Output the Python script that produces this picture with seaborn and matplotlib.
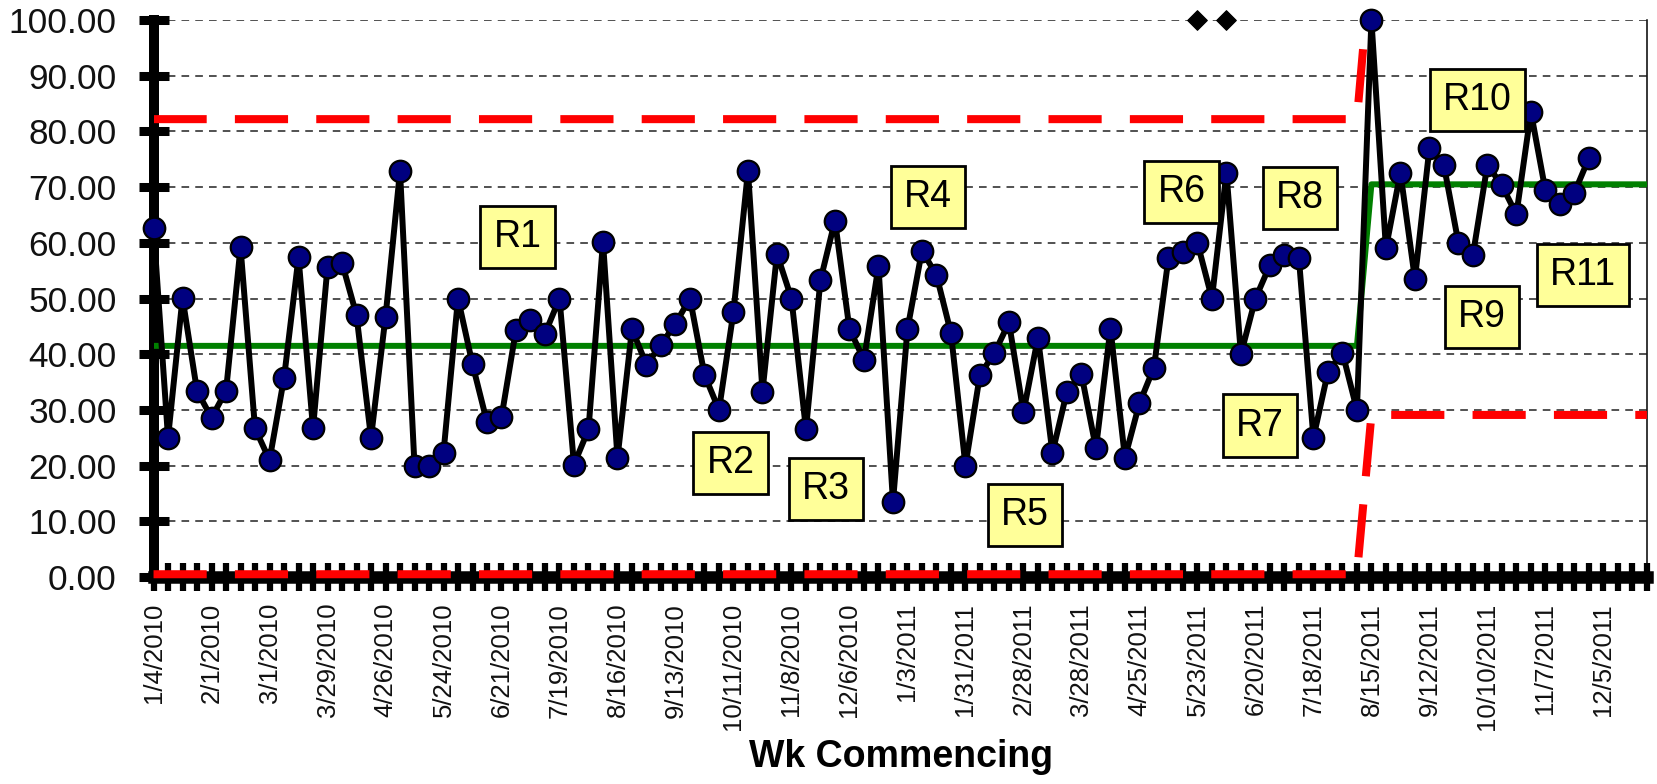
import numpy as np
import pandas as pd
import matplotlib
matplotlib.use("Agg")
import matplotlib.pyplot as plt
import seaborn as sns
from matplotlib.ticker import FixedLocator, FormatStrFormatter

# ---------------- data ----------------
values = [62.7, 25.0, 50.1, 33.4, 28.6, 33.4, 59.2, 26.7, 21.0, 35.7,
          57.4, 26.7, 55.7, 56.4, 47.0, 25.0, 46.7, 72.9, 20.0, 20.0,
          22.3, 50.0, 38.2, 27.8, 28.7, 44.4, 46.2, 43.7, 50.0, 20.2,
          26.5, 60.2, 21.4, 44.5, 38.1, 41.7, 45.5, 50.0, 36.3, 30.0,
          47.6, 72.9, 33.3, 58.0, 50.0, 26.5, 53.3, 64.0, 44.5, 39.0,
          55.8, 13.5, 44.5, 58.6, 54.2, 43.8, 20.0, 36.3, 40.2, 45.7,
          29.6, 43.0, 22.3, 33.3, 36.4, 23.1, 44.6, 21.4, 31.2, 37.6,
          57.2, 58.4, 60.0, 50.0, 72.6, 40.0, 50.0, 56.0, 57.8, 57.2,
          25.0, 36.8, 40.3, 30.0, 100.0, 59.0, 72.6, 53.5, 77.0, 73.9,
          60.0, 57.8, 74.0, 70.3, 65.1, 83.5, 69.4, 66.9, 69.0, 75.2]
n_weeks = 104
tick_step = 4
tick_labels = ["1/4/2010", "2/1/2010", "3/1/2010", "3/29/2010", "4/26/2010",
               "5/24/2010", "6/21/2010", "7/19/2010", "8/16/2010", "9/13/2010",
               "10/11/2010", "11/8/2010", "12/6/2010", "1/3/2011", "1/31/2011",
               "2/28/2011", "3/28/2011", "4/25/2011", "5/23/2011", "6/20/2011",
               "7/18/2011", "8/15/2011", "9/12/2011", "10/10/2011", "11/7/2011",
               "12/5/2011"]
phase_start = [0, 84]
cl_values = [41.5, 70.5]
ucl_values = [82.2, 111.9]
lcl_values = [0.5, 29.1]
signal_weeks = [72, 74]
signal_level = [100, 100]
region_labels = ["R1", "R2", "R3", "R4", "R5", "R6", "R7", "R8", "R9", "R10", "R11"]
region_x = [25.1, 39.8, 46.4, 53.4, 60.1, 70.9, 76.3, 79.1, 91.6, 91.3, 98.6]
region_y = [61.0, 20.5, 15.8, 68.2, 11.1, 69.1, 27.2, 68.1, 46.7, 85.7, 54.2]

# ---------------- frames ----------------
df = pd.DataFrame({"week": np.arange(len(values)), "value": values})
weeks = np.arange(n_weeks)
phase = np.searchsorted(phase_start, weeks, side="right") - 1
limits = pd.DataFrame({
    "week": weeks,
    "cl": np.array(cl_values)[phase],
    "ucl": np.array(ucl_values)[phase],
    "lcl": np.array(lcl_values)[phase],
})
signals = pd.DataFrame({"week": signal_weeks, "level": signal_level})

# ---------------- style ----------------
sns.set_style("white", {"axes.edgecolor": "black", "text.color": "black",
                        "xtick.color": "black", "ytick.color": "black",
                        "xtick.bottom": True, "ytick.left": True})
plt.rcParams["font.family"] = ["Liberation Sans", "DejaVu Sans"]

fig = plt.figure(figsize=(16.58, 7.84), dpi=100)
ax = fig.add_axes([0.0926, 0.2640, 0.9007, 0.7105])

red_dash = (0, (6.6, 3.5))
sns.lineplot(data=limits, x="week", y="ucl", ax=ax, color="#FF0000", lw=5.8,
             linestyle=red_dash, zorder=3, errorbar=None)
sns.lineplot(data=limits, x="week", y="lcl", ax=ax, color="#FF0000", lw=5.8,
             linestyle=red_dash, zorder=3, clip_on=False, errorbar=None)
sns.lineplot(data=limits, x="week", y="cl", ax=ax, color="#008000", lw=4.3,
             zorder=2.6, errorbar=None)
sns.lineplot(data=df, x="week", y="value", ax=ax, color="black", lw=4.3,
             marker="o", markersize=15.5, markerfacecolor="#000080",
             markeredgecolor="black", markeredgewidth=1.6, zorder=4,
             clip_on=False, errorbar=None)
sns.scatterplot(data=signals, x="week", y="level", ax=ax, marker="D", s=100,
                color="black", edgecolor="black", zorder=5, clip_on=False,
                legend=False)

for lab, x, y in zip(region_labels, region_x, region_y):
    ax.text(x, y, lab, ha="center", va="center", fontsize=27, zorder=6,
            bbox=dict(boxstyle="square,pad=0.35", fc="#FFFF99", ec="black", lw=2))

# ---------------- axes ----------------
ax.set_xlim(0, n_weeks - 1)
ax.set_ylim(0, 100)
ax.set_yticks(np.arange(0, 101, 10))
ax.yaxis.set_major_formatter(FormatStrFormatter("%.2f"))
ax.set_xticks(np.arange(0, len(tick_labels) * tick_step, tick_step))
ax.set_xticklabels(tick_labels, rotation=90)
ax.xaxis.set_minor_locator(FixedLocator(weeks))

ax.tick_params(axis="x", which="both", bottom=True, direction="inout",
               length=20, width=4.5, color="black", labelsize=18.5, pad=8.6,
               labelcolor="#111111")
ax.tick_params(axis="y", which="major", left=True, direction="inout",
               length=22, width=6.5, color="black", labelsize=25.4, pad=15.5,
               labelcolor="#111111")

ax.spines["top"].set_visible(False)
ax.spines["left"].set_linewidth(7.2)
ax.spines["bottom"].set_linewidth(9)
ax.spines["right"].set_linewidth(1.1)
for s in ("left", "bottom", "right"):
    ax.spines[s].set_color("black")

ax.set_axisbelow(True)
ax.yaxis.grid(True, color="#222222", linestyle=(0, (5, 4)), lw=1.1)
ax.xaxis.grid(False)
ax.set_xlabel("")
ax.set_ylabel("")

fig.text(0.5432, 1 - 757 / 784, "Wk Commencing", ha="center", va="center",
         fontsize=27, fontweight="bold")

fig.savefig("out.png", dpi=100)
